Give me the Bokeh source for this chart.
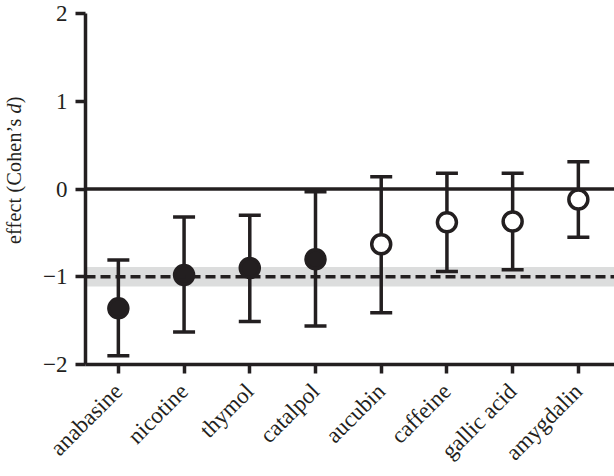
import math
from bokeh.plotting import figure
from bokeh.layouts import row
from bokeh.models import (Range1d, FixedTicker, Whisker, TeeHead, Span, BoxAnnotation,
                          ColumnDataSource, Div)
from bokeh.embed import file_html
from bokeh.resources import INLINE

# ---- data ----
compounds = ["anabasine", "nicotine", "thymol", "catalpol",
             "aucubin", "caffeine", "gallic acid", "amygdalin"]
effect = [-1.36, -0.98, -0.90, -0.80, -0.63, -0.38, -0.37, -0.12]
upper = [-0.81, -0.32, -0.30, -0.03, 0.14, 0.18, 0.18, 0.31]
lower = [-1.90, -1.63, -1.51, -1.56, -1.41, -0.94, -0.92, -0.55]
significant = [True, True, True, True, False, False, False, False]
reference_effect = -1.0
reference_band = (-1.11, -0.89)
y_ticks = [-2, -1, 0, 1, 2]
y_title_html = "effect (Cohen\u2019s <i>d</i>)"

INK = "#231f20"
FONT = "Liberation Serif"
LW = 3.5

xs = list(range(len(compounds)))
fills = [INK if s else "white" for s in significant]
src = ColumnDataSource(dict(x=xs, y=effect, upper=upper, lower=lower, fill=fills))

p = figure(width=574, height=476, output_backend="svg", toolbar_location=None,
           x_range=Range1d(-0.5, 7.55), y_range=Range1d(-2, 2),
           min_border_left=40, min_border_right=0, min_border_top=13, min_border_bottom=108)
p.outline_line_color = None
p.xgrid.visible = False
p.ygrid.visible = False
p.background_fill_color = "white"

# reference band and line
p.add_layout(BoxAnnotation(bottom=reference_band[0], top=reference_band[1],
                           fill_color="#dcdddd", fill_alpha=1.0, line_color=None,
                           level="underlay"))
p.add_layout(Span(location=reference_effect, dimension="width", line_color=INK,
                  line_width=LW, line_dash="10 5"))
p.add_layout(Span(location=0, dimension="width", line_color=INK, line_width=LW))

# error bars
w = Whisker(base="x", upper="upper", lower="lower", source=src,
            line_color=INK, line_width=LW,
            upper_head=TeeHead(size=22, line_color=INK, line_width=LW),
            lower_head=TeeHead(size=22, line_color=INK, line_width=LW))
p.add_layout(w)

p.scatter("x", "y", source=src, size=19, marker="circle", fill_color="fill",
          line_color=INK, line_width=LW)

# axes
for ax in (p.xaxis[0], p.yaxis[0]):
    ax.axis_line_width = LW
    ax.axis_line_color = INK
    ax.major_tick_line_width = LW
    ax.major_tick_line_color = INK
    ax.major_tick_in = 0
    ax.minor_tick_line_color = None
    ax.major_label_text_font = FONT
    ax.major_label_text_color = INK

p.xaxis.ticker = FixedTicker(ticks=xs)
p.xaxis.major_label_overrides = {i: c for i, c in enumerate(compounds)}
p.xaxis.major_label_orientation = math.pi / 4
p.xaxis.major_tick_out = 9
p.xaxis.major_label_standoff = 14
p.xaxis.major_label_text_font_size = "23px"

p.yaxis.ticker = FixedTicker(ticks=y_ticks)
p.yaxis.major_label_overrides = {t: (str(t).replace("-", "\u2212")) for t in y_ticks}
p.yaxis.major_tick_out = 10
p.yaxis.major_label_standoff = 8
p.yaxis.major_label_text_font_size = "23px"

# y axis title (HTML so that "d" can be italic)
title_div = Div(
    text=('<div style="position:absolute; left:4px; top:244px; transform-origin:0 0; '
          'transform:rotate(-90deg); white-space:nowrap; font-family:\'Liberation Serif\'; '
          'font-size:20px; letter-spacing:0.2px; line-height:21px; color:%s;">%s</div>'
          % (INK, y_title_html)),
    width=40, height=476, styles={"position": "relative", "margin": "0", "padding": "0"})

layout = row(title_div, p, spacing=0)

open("out.html", "w").write(file_html(layout, INLINE))
